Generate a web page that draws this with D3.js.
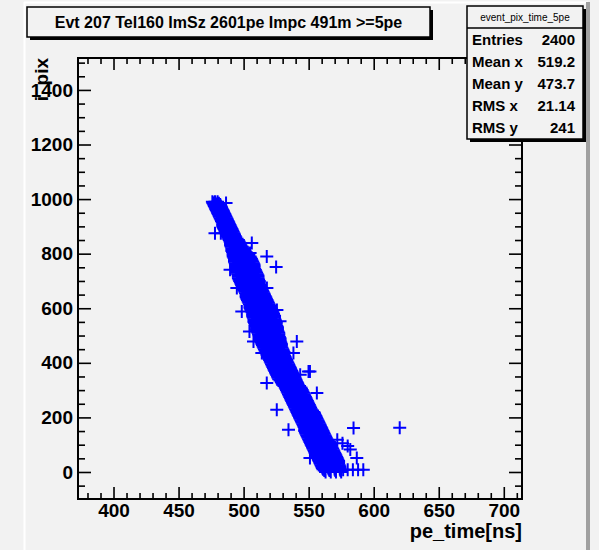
<!DOCTYPE html>
<html>
<head>
<meta charset="utf-8">
<script src="https://cdn.jsdelivr.net/npm/d3@7"></script>
<style>
  body { margin: 0; background: #f2f2f2; }
  svg { display: block; font-family: "Liberation Sans", Arial, sans-serif; }
</style>
</head>
<body>
<div class="svg-container"></div>
<script>
// title and stats box text
var titleText = "Evt 207 Tel160 ImSz 2601pe Impc 491m >=5pe";
var statsName = "event_pix_time_5pe";
var statsLabels = ["Entries", "Mean x", "Mean y", "RMS x", "RMS y"];
var statsValues = ["2400", "519.2", "473.7", "21.14", "241"];

// axis ticks
var xMajor = [400, 450, 500, 550, 600, 650, 700];
var yMajor = [0, 200, 400, 600, 800, 1000, 1200, 1400];

// the band: one row per i_pix value (every 5), pe_time values
var bandRows = [
  [990, [476, 478, 480]], [985, [476.5, 478.5, 481]], [980, [477, 479.5, 482]], [975, [477.5, 480, 482.5]],
  [970, [478, 480.5, 483]], [965, [478.5, 481, 483.5]], [960, [479, 481.5, 484]], [955, [479.5, 482, 484.5]],
  [950, [480, 482.5, 485]], [945, [480.5, 483, 485.5]], [940, [481, 483.5, 486]], [935, [481.5, 484, 486.5]],
  [930, [482, 484.5, 487]], [925, [482.5, 485, 487.5]], [920, [483, 485.5, 488]], [915, [483.5, 486, 488.5]],
  [910, [484, 486.5, 489]], [905, [484, 487, 489.5]], [900, [484, 487, 490]], [895, [484.5, 487.5, 490.5]],
  [890, [485, 488, 491]], [885, [485.5, 488.5, 491.5]], [880, [486, 489, 492]], [875, [486.5, 489.5, 492.5]],
  [870, [487, 490, 493]], [865, [487.5, 490.5, 493.5]], [860, [488, 491, 494]], [855, [488.5, 491, 493.5, 495]],
  [850, [489, 491.5, 494, 496]], [845, [489.5, 492, 494.5, 496.5]], [840, [490, 492.5, 495, 497]], [835, [490, 493, 495.5, 497.5]],
  [830, [490, 493, 495.5, 498]], [825, [490.5, 493.5, 496.5, 499]], [820, [491, 494, 497, 500]], [815, [491, 494, 497.5, 500.5]],
  [810, [491, 494.5, 498, 501]], [805, [491.5, 495, 498.5, 502]], [800, [492, 495.5, 499, 503]], [795, [492, 496, 500, 504]],
  [790, [492, 496, 500.5, 505]], [785, [492.5, 496.5, 501, 505.5]], [780, [493, 497, 501.5, 506]], [775, [493, 497, 502, 506.5]],
  [770, [493, 497.5, 502.5, 507]], [765, [493.5, 498, 503, 507.5]], [760, [494, 498.5, 503.5, 508]], [755, [494, 498.5, 503.5, 508]],
  [750, [494, 499, 504, 508]], [745, [494.5, 499, 504, 508.5]], [740, [495, 499.5, 504.5, 509]], [735, [495, 499.5, 505, 509.5]],
  [730, [495, 500, 505, 510]], [725, [495.5, 500.5, 505.5, 510.5]], [720, [496, 501, 506, 511]], [715, [496, 501, 506, 511]],
  [710, [496, 501, 506, 511]], [705, [496.5, 501.5, 506.5, 511.5]], [700, [497, 502, 507, 512]], [695, [497.5, 502.5, 507.5, 512]],
  [690, [498, 503, 508, 512]], [685, [498.5, 503.5, 508.5, 512.5]], [680, [499, 504, 509, 513]], [675, [499.5, 504.5, 509.5, 513.5]],
  [670, [500, 505, 510, 514]], [665, [500.5, 505.5, 510.5, 514.5]], [660, [501, 506, 511, 515]], [655, [501.5, 506.5, 511.5, 515.5]],
  [650, [502, 507, 512, 516]], [645, [502, 507, 512, 516.5]], [640, [502, 507, 512.5, 517]], [635, [502.5, 507.5, 513, 517.5]],
  [630, [503, 508, 513.5, 518]], [625, [503.5, 508.5, 514, 518.5]], [620, [504, 509, 514.5, 519]], [615, [504.5, 509.5, 515, 519.5]],
  [610, [505, 510, 515.5, 520]], [605, [505, 510, 515.5, 520.5]], [600, [505, 510.5, 516, 521]], [595, [505.5, 511, 516.5, 521.5]],
  [590, [506, 511.5, 517, 522]], [585, [506.5, 512, 517.5, 522.5]], [580, [507, 512.5, 518, 523]], [575, [507, 512.5, 518, 523]],
  [570, [507, 512.5, 518, 523]], [565, [507.5, 513, 518.5, 523.5]], [560, [508, 513.5, 519, 524]], [555, [508, 513.5, 519, 524.5]],
  [550, [508, 513.5, 519.5, 525]], [545, [508.5, 514, 519.5, 525]], [540, [509, 514.5, 520, 525]], [535, [509.5, 515, 520.5, 525.5]],
  [530, [510, 515.5, 521, 526]], [525, [510, 515.5, 521, 526]], [520, [510, 515.5, 521, 526]], [515, [510.5, 516, 521.5, 526.5]],
  [510, [511, 516.5, 522, 527]], [505, [511.5, 517, 522, 527]], [500, [512, 517, 522, 527]], [495, [512.5, 517.5, 522.5, 527.5]],
  [490, [513, 518, 523, 528]], [485, [513, 518, 523, 528]], [480, [513, 518, 523, 528]], [475, [513.5, 518.5, 523.5, 528.5]],
  [470, [514, 519, 524, 529]], [465, [514.5, 519.5, 524.5, 529]], [460, [515, 520, 524.5, 529]], [455, [515.5, 520.5, 525, 529.5]],
  [450, [516, 521, 525.5, 530]], [445, [516.5, 521.5, 526, 530.5]], [440, [517, 522, 526.5, 531]], [435, [517.5, 522.5, 527, 531]],
  [430, [518, 523, 527, 531]], [425, [518.5, 523, 527.5, 531.5]], [420, [519, 523.5, 528, 532]], [415, [519.5, 524, 528.5, 532.5]],
  [410, [520, 524.5, 529, 533]], [405, [520.5, 525, 529.5, 533.5]], [400, [521, 525.5, 530, 534]], [395, [521.5, 526, 530.5, 534.5]],
  [390, [522, 526.5, 531, 535]], [385, [522.5, 527, 531.5, 535.5]], [380, [523, 527.5, 532, 536]], [375, [523.5, 528, 532.5, 536.5]],
  [370, [524, 528.5, 533, 537]], [365, [524.5, 529, 533.5, 537.5]], [360, [525, 529.5, 534, 538]], [355, [525.5, 530, 534.5, 538.5]],
  [350, [526, 530.5, 535, 539]], [345, [526.5, 531, 535.5, 539.5]], [340, [527, 531.5, 536, 540]], [335, [528, 532, 536.5, 540.5]],
  [330, [529, 533, 537, 541]], [325, [529.5, 533.5, 537.5, 541.5]], [320, [530, 534, 538, 542]], [315, [531, 535, 539, 543]],
  [310, [532, 536, 540, 544]], [305, [532.5, 536.5, 540.5, 544.5]], [300, [533, 537, 541, 545]], [295, [533.5, 537.5, 541.5, 545.5]],
  [290, [534, 538, 542, 546]], [285, [534.5, 538.5, 542.5, 546.5]], [280, [535, 539, 543, 547]], [275, [535.5, 539.5, 543.5, 547.5]],
  [270, [536, 540, 544, 548]], [265, [536.5, 540.5, 544.5, 548.5]], [260, [537, 541, 545, 549]], [255, [537.5, 541.5, 545.5, 549.5]],
  [250, [538, 542, 546, 550]], [245, [538.5, 542.5, 546.5, 550.5]], [240, [539, 543, 547, 551]], [235, [539.5, 543.5, 547.5, 551.5]],
  [230, [540, 544, 548, 552]], [225, [540.5, 544.5, 549, 553]], [220, [541, 545, 549.5, 554]], [215, [541.5, 545.5, 550, 554.5]],
  [210, [542, 546, 550.5, 555]], [205, [542.5, 546.5, 551, 555.5]], [200, [543, 547, 551.5, 556]], [195, [543.5, 547.5, 552, 556.5]],
  [190, [544, 548, 552.5, 557]], [185, [544.5, 548.5, 553, 557.5]], [180, [545, 549, 553.5, 558]], [175, [545.5, 549.5, 554, 558.5]],
  [170, [546, 550, 554.5, 559]], [165, [546.5, 550.5, 555, 559.5]], [160, [547, 551, 555.5, 560]], [155, [547, 551, 556, 560.5]],
  [150, [547, 551.5, 556, 561]], [145, [547.5, 552, 556.5, 561.5]], [140, [548, 552.5, 557, 562]], [135, [548.5, 553, 557.5, 562.5]],
  [130, [549, 553.5, 558, 563]], [125, [549.5, 554, 558.5, 563.5]], [120, [550, 554.5, 559, 564]], [115, [550.5, 555, 560, 565]],
  [110, [551, 556, 561, 566]], [105, [551.5, 556.5, 561.5, 566.5]], [100, [552, 557, 562, 567]], [95, [552.5, 557.5, 562.5, 567.5]],
  [90, [553, 558, 563, 568]], [85, [553.5, 558.5, 563.5, 568.5]], [80, [554, 559, 564, 569]], [75, [554.5, 559.5, 564.5, 569.5]],
  [70, [555, 560, 565, 570]], [65, [555.5, 560.5, 565.5, 570.5]], [60, [556, 561, 566, 571]], [55, [556.5, 561.5, 566.5, 571.5]],
  [50, [557, 562, 567, 572]], [45, [557.5, 562.5, 567.5, 572.5]], [40, [558, 563, 568, 573]], [35, [558.5, 563.5, 568.5, 573]],
  [30, [559, 564, 569, 573]], [25, [559.5, 564.5, 569.5, 573.5]], [20, [560, 565, 570, 574]], [15, [560.5, 565, 570, 574]],
  [10, [561, 565.5, 570, 574]], [5, [562, 566, 570.5, 574.5]], [0, [563, 567, 571, 575]]
];

// stray points off the band
var strayTime = [476.6, 486.5, 481.4, 482.5, 478, 506.3, 505, 517.8, 525, 489.6,
                 517.9, 494.8, 525.6, 498.6, 528, 504.5, 540.9, 507.6, 538.3, 514,
                 549.9, 543.5, 551, 556.3, 517.8, 525.5, 584.5, 534.5, 572, 576,
                 580, 582, 587, 551, 576.5, 580, 584, 588, 592, 620];
var strayPix = [986, 986, 949, 875, 875, 839, 802, 790, 751, 741,
                674, 674, 594, 588, 552, 515, 478, 478, 436, 436,
                368, 356, 368, 289, 326, 228, 161, 155, 118, 105,
                95, 82, 51, 51, 8, 8, 8, 8, 8, 162];

var width = 599, height = 550;
var frame = { left: 78, right: 522, top: 58, bottom: 499 };

var svg = d3.select(".svg-container").append("svg")
            .attr("width", width)
            .attr("height", height);

// pad background with its bevel
svg.append("rect").attr("width", width).attr("height", height).attr("fill", "#f2f2f2");
svg.append("line").attr("x1", 24.5).attr("x2", 24.5).attr("y1", 2).attr("y2", height)
   .attr("stroke", "#ffffff").attr("stroke-width", 2);
svg.append("line").attr("x1", 24).attr("x2", 588).attr("y1", 2.5).attr("y2", 2.5)
   .attr("stroke", "#ffffff").attr("stroke-width", 2);
svg.append("line").attr("x1", 588).attr("x2", 588).attr("y1", 2).attr("y2", height)
   .attr("stroke", "#a0a0a0").attr("stroke-width", 4);

var x = d3.scaleLinear().domain([372.7, 714]).range([frame.left, frame.right]);
var y = d3.scaleLinear().domain([-99, 1517]).range([frame.bottom, frame.top]);

var xMinor = d3.range(380, 714, 10).filter(function(v) { return xMajor.indexOf(v) < 0; });
var yMinor = d3.range(-50, 1517, 50).filter(function(v) { return yMajor.indexOf(v) < 0; });

function styleAxis(g) {
  g.select(".domain").remove();
  g.selectAll(".tick line").attr("stroke", "#000").attr("stroke-width", 1.6);
  g.selectAll(".tick text").attr("fill", "#000")
   .style("font-family", "'Liberation Sans', Arial, sans-serif")
   .style("font-size", "19px").style("font-weight", "bold");
}

// bottom and top
svg.append("g").attr("transform", "translate(0," + frame.bottom + ")")
   .call(d3.axisBottom(x).tickValues(xMajor).tickSize(-12).tickPadding(5).tickFormat(d3.format("d")))
   .call(styleAxis);
svg.append("g").attr("transform", "translate(0," + frame.bottom + ")")
   .call(d3.axisBottom(x).tickValues(xMinor).tickSize(-6).tickFormat(""))
   .call(styleAxis);
svg.append("g").attr("transform", "translate(0," + frame.top + ")")
   .call(d3.axisTop(x).tickValues(xMajor).tickSize(-12).tickFormat(""))
   .call(styleAxis);
svg.append("g").attr("transform", "translate(0," + frame.top + ")")
   .call(d3.axisTop(x).tickValues(xMinor).tickSize(-6).tickFormat(""))
   .call(styleAxis);

// left and right
svg.append("g").attr("transform", "translate(" + frame.left + ",0)")
   .call(d3.axisLeft(y).tickValues(yMajor).tickSize(-13).tickPadding(5).tickFormat(d3.format("d")))
   .call(styleAxis);
svg.append("g").attr("transform", "translate(" + frame.left + ",0)")
   .call(d3.axisLeft(y).tickValues(yMinor).tickSize(-7).tickFormat(""))
   .call(styleAxis);
svg.append("g").attr("transform", "translate(" + frame.right + ",0)")
   .call(d3.axisRight(y).tickValues(yMajor).tickSize(-13).tickFormat(""))
   .call(styleAxis);
svg.append("g").attr("transform", "translate(" + frame.right + ",0)")
   .call(d3.axisRight(y).tickValues(yMinor).tickSize(-7).tickFormat(""))
   .call(styleAxis);

svg.append("rect")
   .attr("x", frame.left).attr("y", frame.top)
   .attr("width", frame.right - frame.left).attr("height", frame.bottom - frame.top)
   .attr("fill", "none").attr("stroke", "#000").attr("stroke-width", 2);

// collect points
var points = [];
bandRows.forEach(function(row) {
  row[1].forEach(function(t) { points.push({ t: t, p: row[0] }); });
});
strayTime.forEach(function(t, i) { points.push({ t: t, p: strayPix[i] }); });

var cross = "M-6.5,0H6.5M0,-6.5V6.5";
svg.append("g").selectAll("path")
   .data(points)
   .join("path")
   .attr("d", cross)
   .attr("transform", function(d) { return "translate(" + x(d.t) + "," + y(d.p) + ")"; })
   .attr("stroke", "#0000ff")
   .attr("stroke-width", 2)
   .attr("fill", "none");

// axis titles
svg.append("text")
   .attr("x", frame.right).attr("y", 538)
   .attr("text-anchor", "end")
   .style("font-size", "20px").style("font-weight", "bold")
   .text("pe_time[ns]");
svg.append("text")
   .attr("transform", "translate(48," + frame.top + ") rotate(-90)")
   .attr("text-anchor", "end")
   .style("font-size", "19px").style("font-weight", "bold")
   .text("i_pix");

// title box with shadow
svg.append("rect").attr("x", 30).attr("y", 10).attr("width", 403).attr("height", 30).attr("fill", "#000");
svg.append("rect").attr("x", 27).attr("y", 7).attr("width", 403).attr("height", 30)
   .attr("fill", "#f2f2f2").attr("stroke", "#000").attr("stroke-width", 1.5);
svg.append("text")
   .attr("x", 228.5).attr("y", 28)
   .attr("text-anchor", "middle")
   .style("font-size", "16px").style("font-weight", "bold")
   .text(titleText);

// stats box with shadow
var sb = { x: 467, y: 6, w: 116, h: 133 };
svg.append("rect").attr("x", sb.x + 3).attr("y", sb.y + 3).attr("width", sb.w).attr("height", sb.h).attr("fill", "#000");
svg.append("rect").attr("x", sb.x).attr("y", sb.y).attr("width", sb.w).attr("height", sb.h)
   .attr("fill", "#f2f2f2").attr("stroke", "#000").attr("stroke-width", 1.5);
svg.append("line").attr("x1", sb.x).attr("x2", sb.x + sb.w).attr("y1", 28).attr("y2", 28)
   .attr("stroke", "#000").attr("stroke-width", 1.5);
svg.append("text")
   .attr("x", sb.x + sb.w / 2).attr("y", 21)
   .attr("text-anchor", "middle")
   .style("font-size", "10px")
   .text(statsName);

var rowY = d3.scaleLinear().domain([0, statsLabels.length - 1]).range([45, 133]);
svg.append("g").selectAll("text")
   .data(statsLabels)
   .join("text")
   .attr("x", sb.x + 5)
   .attr("y", function(d, i) { return rowY(i); })
   .style("font-size", "15px").style("font-weight", "bold")
   .text(function(d) { return d; });
svg.append("g").selectAll("text")
   .data(statsValues)
   .join("text")
   .attr("x", sb.x + sb.w - 8)
   .attr("y", function(d, i) { return rowY(i); })
   .attr("text-anchor", "end")
   .style("font-size", "15px").style("font-weight", "bold")
   .text(function(d) { return d; });
</script>
</body>
</html>
